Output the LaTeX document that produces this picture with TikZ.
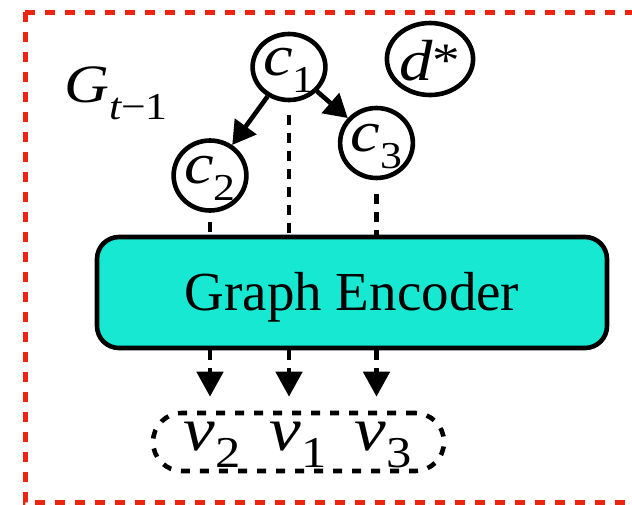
\documentclass[tikz,border=0pt]{standalone}
\usepackage{fontspec}
\setmainfont{Liberation Serif}
\newfontfamily\symit[FakeStretch=1.15]{Liberation Serif Italic}
\newfontfamily\symup[FakeStretch=1.15]{Liberation Serif}
\usetikzlibrary{arrows.meta,shapes.geometric}
\definecolor{framered}{RGB}{238,36,18}
\definecolor{encfill}{RGB}{22,232,210}

% italic variable with a lowered index: size, index size, letter, index
\newcommand\ivar[4]{{\fontsize{#1}{#1}\selectfont\symit #3}\raisebox{-17pt}{\fontsize{#2}{#2}\selectfont\symup #4}}

\begin{document}
\begin{tikzpicture}[x=1pt,y=-1pt,
  framed/.style={draw=framered, line width=5pt, dash pattern=on 10pt off 10pt},
  cnode/.style={ellipse, draw, line width=4.6pt, inner sep=0pt,
    minimum width=70pt, minimum height=70pt, text height=26pt, text depth=10pt},
  encbox/.style={draw, line width=4.6pt, fill=encfill, rounded corners=22pt,
    minimum width=510pt, minimum height=111pt, inner sep=0pt,
    font=\fontsize{55pt}{55pt}\selectfont, text height=37pt, text depth=2pt},
  vbox/.style={draw, line width=4.6pt, dash pattern=on 9pt off 10pt,
    rounded corners=29pt, minimum width=291pt, minimum height=58pt, inner sep=0pt},
  solidarrow/.style={line width=4.6pt, -{Triangle[length=23pt,width=26pt]}},
  dashline/.style={line width=4.8pt, dash pattern=on 10pt off 8pt},
  dasharrow/.style={dashline, shorten >=14pt, -{Triangle[length=25pt,width=26pt]}}]
\useasboundingbox (0,0) rectangle (632,504);

% outer frame, running past the right edge
\begin{scope}
  \clip (0,0) rectangle (632,504);
  \draw[framed] (25,12) rectangle (690,502);
\end{scope}

% graph G_{t-1}
\node[anchor=base west, inner sep=0pt] (gt) at (64,102)
  {\ivar{54pt}{38pt}{G}{{\symit t}−1}};
\node[cnode, minimum height=66pt] (c1) at (289,67) {\ivar{58pt}{38pt}{c}{1}};
\node[cnode] (c2) at (210,175.5) {\ivar{58pt}{38pt}{c}{2}};
\node[cnode] (c3) at (376.5,143) {\ivar{58pt}{38pt}{c}{3}};
\node[cnode, minimum height=72pt, text height=42pt, text depth=0pt] (d) at (430,59)
  {{\fontsize{58pt}{58pt}\selectfont\symit d}\raisebox{4pt}{\fontsize{48pt}{48pt}\selectfont\symup *}};

\draw[solidarrow] (c1) -- (c2);
\draw[solidarrow] (c1) -- (c3);

% encoder
\node[encbox] (enc) at (352,292.5) {Graph Encoder};

\draw[dashline, shorten <=13pt] (c1) -- (c1 |- enc.north);
\draw[dashline, shorten <=9pt] (c2) -- (c2 |- enc.north);
\draw[dashline, shorten <=14pt] (c3) -- (c3 |- enc.north);

% node embeddings
\node[vbox] (vset) at (298.5,442) {};
\node[anchor=base, inner sep=0pt] (v2) at (212,450) {\ivar{62pt}{44pt}{v}{2}};
\node[anchor=base, inner sep=0pt] (v1) at (298,450) {\ivar{62pt}{44pt}{v}{1}};
\node[anchor=base, inner sep=0pt] (v3) at (383,450) {\ivar{62pt}{44pt}{v}{3}};

\draw[dasharrow] (c2 |- enc.south) -- (c2 |- vset.north);
\draw[dasharrow] (c1 |- enc.south) -- (c1 |- vset.north);
\draw[dasharrow] (c3 |- enc.south) -- (c3 |- vset.north);
\end{tikzpicture}
\end{document}
